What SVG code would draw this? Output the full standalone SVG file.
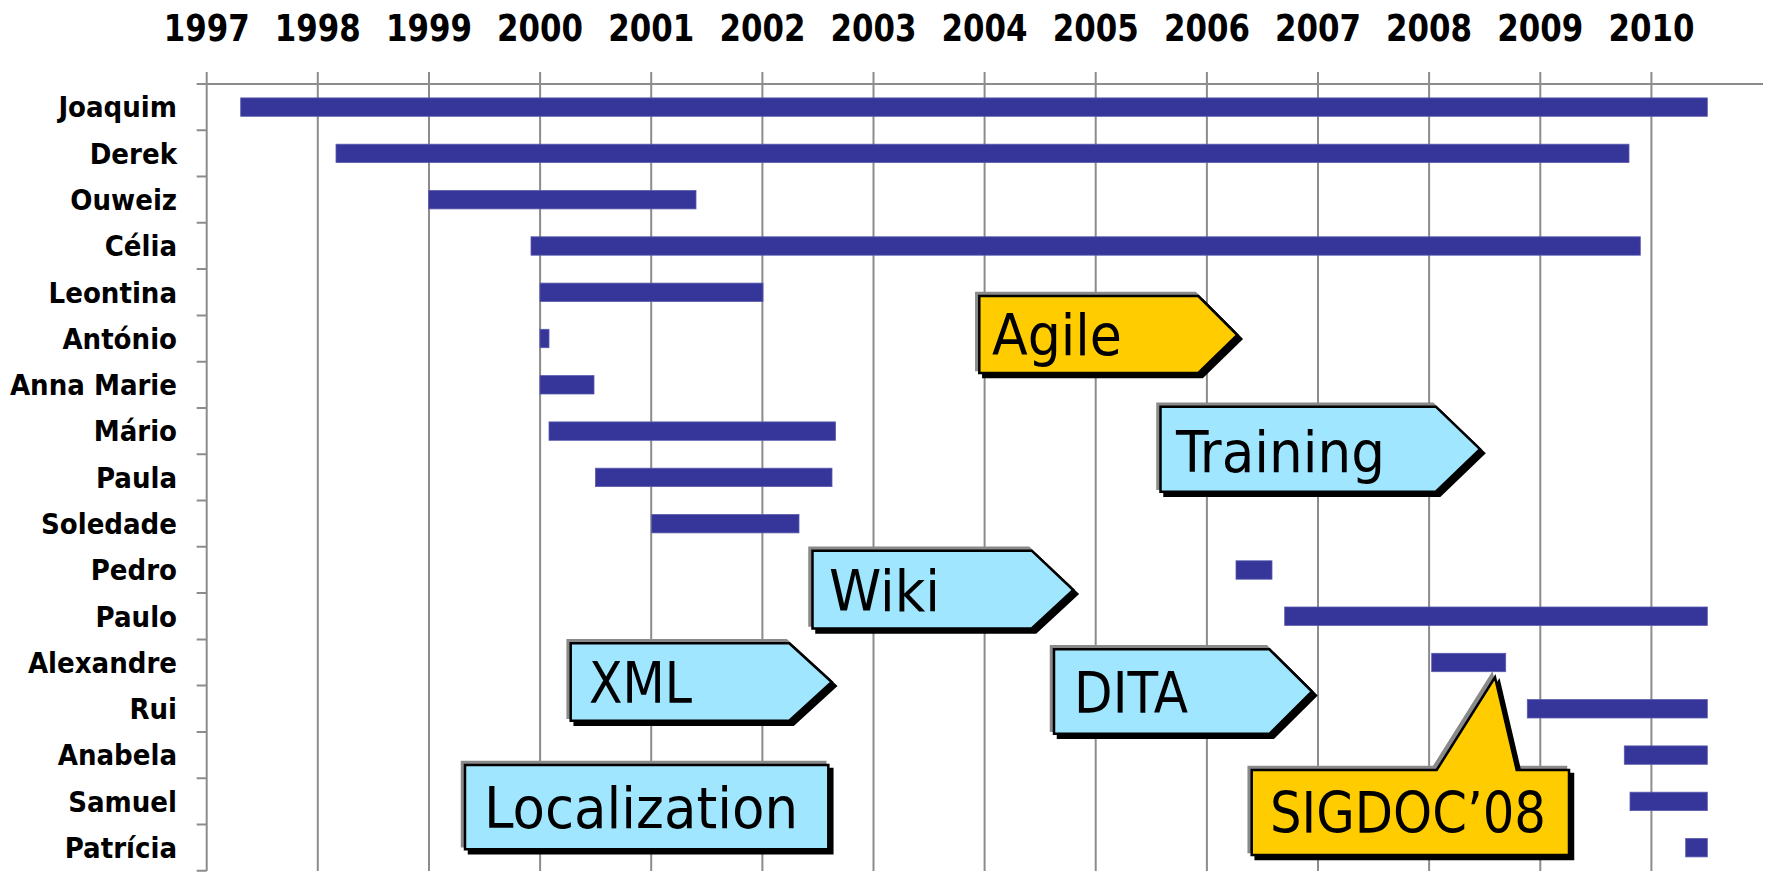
<svg xmlns="http://www.w3.org/2000/svg" width="1768" height="872" viewBox="0 0 1768 872">
<style>
.grid{stroke:#8c8c8c;stroke-width:2;fill:none}
.yr{font-family:'DejaVu Sans Condensed','DejaVu Sans',sans-serif;font-stretch:condensed;font-weight:bold;font-size:37px;fill:#000;text-anchor:middle}
.nm{font-family:'DejaVu Sans Condensed','DejaVu Sans',sans-serif;font-stretch:condensed;font-weight:bold;font-size:29px;fill:#000;text-anchor:end}
.bar{fill:#35359a;stroke:#5a5aad;stroke-width:0.8}
.hl{fill:#8a8a8a;stroke:#8a8a8a;stroke-width:2.5;stroke-linejoin:miter}
.sh{fill:#000;stroke:#000;stroke-width:2.5}
.blue{fill:#a0e6ff;stroke:#000;stroke-width:2.5}
.yel{fill:#ffcc00;stroke:#000;stroke-width:2.5}
.ct{font-family:'DejaVu Sans Condensed','DejaVu Sans',sans-serif;font-stretch:condensed;font-size:57px;fill:#000}
</style>
<rect width="1768" height="872" fill="#fff"/>
<g id="axis">
<path class="grid" d="M206.7,72V871M317.8,72V871M429,72V871M540.1,72V871M651.2,72V871M762.4,72V871M873.5,72V871M984.6,72V871M1095.7,72V871M1206.9,72V871M1318,72V871M1429.1,72V871M1540.3,72V871M1651.4,72V871"/>
<path class="grid" d="M196.7,84H1763M196.7,130.3H206.7M196.7,176.6H206.7M196.7,222.8H206.7M196.7,269.1H206.7M196.7,315.4H206.7M196.7,361.7H206.7M196.7,408H206.7M196.7,454.2H206.7M196.7,500.5H206.7M196.7,546.8H206.7M196.7,593.1H206.7M196.7,639.4H206.7M196.7,685.6H206.7M196.7,731.9H206.7M196.7,778.2H206.7M196.7,824.5H206.7M196.7,870.8H206.7"/>
<text class="yr" x="206.7" y="40.7" textLength="86" lengthAdjust="spacingAndGlyphs">1997</text>
<text class="yr" x="317.8" y="40.7" textLength="86" lengthAdjust="spacingAndGlyphs">1998</text>
<text class="yr" x="429" y="40.7" textLength="86" lengthAdjust="spacingAndGlyphs">1999</text>
<text class="yr" x="540.1" y="40.7" textLength="86" lengthAdjust="spacingAndGlyphs">2000</text>
<text class="yr" x="651.2" y="40.7" textLength="86" lengthAdjust="spacingAndGlyphs">2001</text>
<text class="yr" x="762.4" y="40.7" textLength="86" lengthAdjust="spacingAndGlyphs">2002</text>
<text class="yr" x="873.5" y="40.7" textLength="86" lengthAdjust="spacingAndGlyphs">2003</text>
<text class="yr" x="984.6" y="40.7" textLength="86" lengthAdjust="spacingAndGlyphs">2004</text>
<text class="yr" x="1095.7" y="40.7" textLength="86" lengthAdjust="spacingAndGlyphs">2005</text>
<text class="yr" x="1206.9" y="40.7" textLength="86" lengthAdjust="spacingAndGlyphs">2006</text>
<text class="yr" x="1318" y="40.7" textLength="86" lengthAdjust="spacingAndGlyphs">2007</text>
<text class="yr" x="1429.1" y="40.7" textLength="86" lengthAdjust="spacingAndGlyphs">2008</text>
<text class="yr" x="1540.3" y="40.7" textLength="86" lengthAdjust="spacingAndGlyphs">2009</text>
<text class="yr" x="1651.4" y="40.7" textLength="86" lengthAdjust="spacingAndGlyphs">2010</text>
</g>
<g id="rows">
<g id="joaquim"><text class="nm" x="177" y="117.4">Joaquim</text><rect class="bar" x="240.7" y="97.9" width="1466.6" height="18.4"/></g>
<g id="derek"><text class="nm" x="177" y="163.7">Derek</text><rect class="bar" x="336" y="144.2" width="1293" height="18.4"/></g>
<g id="ouweiz"><text class="nm" x="177" y="210">Ouweiz</text><rect class="bar" x="428.7" y="190.5" width="267.3" height="18.4"/></g>
<g id="celia"><text class="nm" x="177" y="256.3">Célia</text><rect class="bar" x="531" y="236.8" width="1109.3" height="18.4"/></g>
<g id="leontina"><text class="nm" x="177" y="302.6">Leontina</text><rect class="bar" x="540" y="283.1" width="223" height="18.4"/></g>
<g id="antonio"><text class="nm" x="177" y="348.8">António</text><rect class="bar" x="540" y="329.3" width="9" height="18.4"/></g>
<g id="annamarie"><text class="nm" x="177" y="395.1">Anna Marie</text><rect class="bar" x="540" y="375.6" width="54" height="18.4"/></g>
<g id="mario"><text class="nm" x="177" y="441.4">Mário</text><rect class="bar" x="549" y="421.9" width="286.5" height="18.4"/></g>
<g id="paula"><text class="nm" x="177" y="487.7">Paula</text><rect class="bar" x="595.4" y="468.2" width="236.6" height="18.4"/></g>
<g id="soledade"><text class="nm" x="177" y="534">Soledade</text><rect class="bar" x="651.7" y="514.5" width="147.3" height="18.4"/></g>
<g id="pedro"><text class="nm" x="177" y="580.3">Pedro</text><rect class="bar" x="1236" y="560.8" width="36" height="18.4"/></g>
<g id="paulo"><text class="nm" x="177" y="626.5">Paulo</text><rect class="bar" x="1284.7" y="607" width="422.6" height="18.4"/></g>
<g id="alexandre"><text class="nm" x="177" y="672.8">Alexandre</text><rect class="bar" x="1431.7" y="653.3" width="74" height="18.4"/></g>
<g id="rui"><text class="nm" x="177" y="719.1">Rui</text><rect class="bar" x="1527.3" y="699.6" width="180" height="18.4"/></g>
<g id="anabela"><text class="nm" x="177" y="765.4">Anabela</text><rect class="bar" x="1624.3" y="745.9" width="83" height="18.4"/></g>
<g id="samuel"><text class="nm" x="177" y="811.7">Samuel</text><rect class="bar" x="1630" y="792.2" width="77.3" height="18.4"/></g>
<g id="patricia"><text class="nm" x="177" y="858">Patrícia</text><rect class="bar" x="1685.7" y="838.5" width="21.6" height="18.4"/></g>
</g>
<defs>
<path id="pAgile" d="M979.3,296H1198.3L1237.3,335L1198.3,373H979.3Z"/>
<path id="pTraining" d="M1160.5,406.7H1435.8L1480,449.2L1435.8,491.7H1160.5Z"/>
<path id="pWiki" d="M812.5,550.7H1031.7L1073.3,590L1031.7,628.5H812.5Z"/>
<path id="pXML" d="M570.7,643.3H789.3L831.7,682L789.3,720.7H570.7Z"/>
<path id="pDITA" d="M1054,649.3H1269.4L1312,691.5L1269.4,733.8H1054Z"/>
<path id="pLoc" d="M465,765H828.3V849.3H465Z"/>
<path id="pSig" d="M1251.7,770H1436.7L1495,677.3L1516.7,770H1569V855H1251.7Z"/>
</defs>
<g id="agile"><use href="#pAgile" class="hl" transform="translate(-3,-3)"/><use href="#pAgile" class="sh" transform="translate(4,4)"/><use href="#pAgile" class="yel"/><text class="ct" x="992" y="355" textLength="130" lengthAdjust="spacingAndGlyphs">Agile</text></g>
<g id="training"><use href="#pTraining" class="hl" transform="translate(-3,-3)"/><use href="#pTraining" class="sh" transform="translate(4,4)"/><use href="#pTraining" class="blue"/><text class="ct" x="1176" y="471.7" textLength="209" lengthAdjust="spacingAndGlyphs">Training</text></g>
<g id="wiki"><use href="#pWiki" class="hl" transform="translate(-3,-3)"/><use href="#pWiki" class="sh" transform="translate(4,4)"/><use href="#pWiki" class="blue"/><text class="ct" x="829" y="610.7" textLength="111" lengthAdjust="spacingAndGlyphs">Wiki</text></g>
<g id="xml"><use href="#pXML" class="hl" transform="translate(-3,-3)"/><use href="#pXML" class="sh" transform="translate(4,4)"/><use href="#pXML" class="blue"/><text class="ct" x="589" y="703.3" textLength="103" lengthAdjust="spacingAndGlyphs">XML</text></g>
<g id="dita"><use href="#pDITA" class="hl" transform="translate(-3,-3)"/><use href="#pDITA" class="sh" transform="translate(4,4)"/><use href="#pDITA" class="blue"/><text class="ct" x="1074" y="712.7" textLength="114" lengthAdjust="spacingAndGlyphs">DITA</text></g>
<g id="localization"><use href="#pLoc" class="hl" transform="translate(-3,-3)"/><use href="#pLoc" class="sh" transform="translate(4,4)"/><use href="#pLoc" class="blue"/><text class="ct" x="484" y="828.3" textLength="314" lengthAdjust="spacingAndGlyphs">Localization</text></g>
<g id="sigdoc"><use href="#pSig" class="hl" transform="translate(-3,-3)"/><use href="#pSig" class="sh" transform="translate(4,4)"/><use href="#pSig" class="yel"/><text class="ct" x="1270" y="833.3" textLength="276" lengthAdjust="spacingAndGlyphs">SIGDOC’08</text></g>
</svg>
